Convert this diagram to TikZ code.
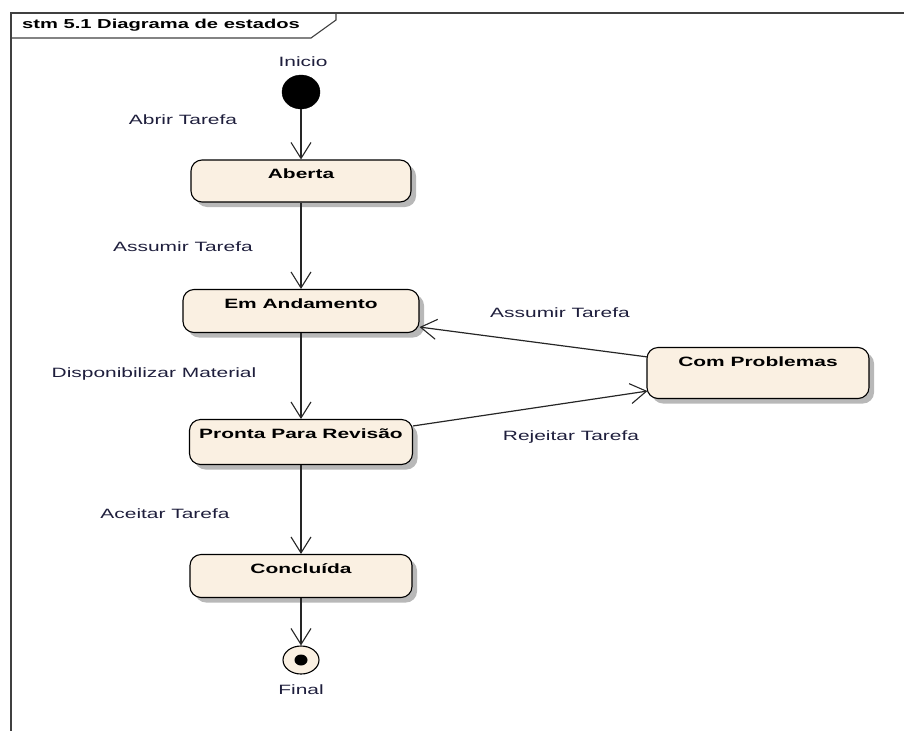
\documentclass[tikz,border=0pt]{standalone}
\usepackage{fontspec}
\newfontfamily\umlfont[FakeStretch=1.55]{Liberation Sans}
\usetikzlibrary{arrows.meta,shadows,calc,shapes.geometric}
\definecolor{statefill}{RGB}{250,240,226}
\definecolor{lbl}{RGB}{30,30,60}
\tikzset{
  statebox/.style={draw=black, line width=1.1pt, fill=statefill, rounded corners=11pt,
    minimum width=#1, inner sep=0pt,
    drop shadow={opacity=1, fill=black!28, shadow xshift=5pt, shadow yshift=-5pt}},
  stitle/.style={anchor=north, yshift=-6pt, font=\umlfont\fontsize{13.5}{15}\selectfont\bfseries, text=black},
  elabel/.style={font=\umlfont\fontsize{13.5}{15}\selectfont, text=lbl},
  arr/.style={draw=black!85, line width=1.2pt, -{Straight Barb[length=16pt,width=20pt,line width=1.1pt]}},
}
\begin{document}
\begin{tikzpicture}[x=1pt,y=-1pt]
\useasboundingbox (0,0) rectangle (904,731);
% frame
\draw[line width=1.2pt, black!75] (904,13) -- (11,13) -- (11,731);
\draw[line width=1.1pt, black!75] (11,38) -- (311,38) -- (336,20) -- (336,13);
\node[anchor=west, font=\umlfont\fontsize{13}{15}\selectfont\bfseries, inner sep=0pt] (title) at (22,25) {stm 5.1 Diagrama de estados};

% initial and final
\node[draw=black, fill=black, ellipse, minimum width=38pt, minimum height=34pt, inner sep=0pt] (ini) at (301,92) {};
\node[elabel] (inil) at (303,62) {Inicio};

\node[statebox=220pt, minimum height=42pt] (aberta) at (301,181) {};
\node[stitle] (abertat) at (aberta.north) {Aberta};
\node[statebox=236pt, minimum height=43pt] (anda) at (301,311) {};
\node[stitle] (andat) at (anda.north) {Em Andamento};
\node[statebox=223pt, minimum height=45pt] (pronta) at (301,442) {};
\node[stitle] (prontat) at (pronta.north) {Pronta Para Revisão};
\node[statebox=222pt, minimum height=43pt] (concl) at (301,576) {};
\node[stitle] (conclt) at (concl.north) {Concluída};
\node[statebox=222pt, minimum height=51pt] (prob) at (758,373) {};
\node[stitle] (probt) at (prob.north) {Com Problemas};

\node[draw=black, line width=1.1pt, fill=statefill, ellipse, minimum width=36pt, minimum height=28pt, inner sep=0pt] (fin) at (301,660) {};
\node[fill=black, ellipse, minimum width=13pt, minimum height=11pt, inner sep=0pt] (findot) at (fin.center) {};
\node[elabel] (finl) at (301,690) {Final};

% transitions
\draw[arr] (ini.south) -- (aberta.north);
\draw[arr] (aberta.south) -- (anda.north);
\draw[arr] (anda.south) -- (pronta.north);
\draw[arr] (pronta.south) -- (concl.north);
\draw[arr] (concl.south) -- (fin.north);
\draw[arr] ($(prob.north west)+(1,10)$) -- ($(anda.south east)+(0,-6)$);
\draw[arr] ($(pronta.north east)+(0,7)$) -- ($(prob.south west)+(1,-8)$);

% labels
\node[elabel] (l1) at (183,120) {Abrir Tarefa};
\node[elabel] (l2) at (183,247) {Assumir Tarefa};
\node[elabel] (l3) at (154,374) {Disponibilizar Material};
\node[elabel] (l4) at (165,514) {Aceitar Tarefa};
\node[elabel] (l5) at (560,313) {Assumir Tarefa};
\node[elabel] (l6) at (571,437) {Rejeitar Tarefa};
\end{tikzpicture}
\end{document}
